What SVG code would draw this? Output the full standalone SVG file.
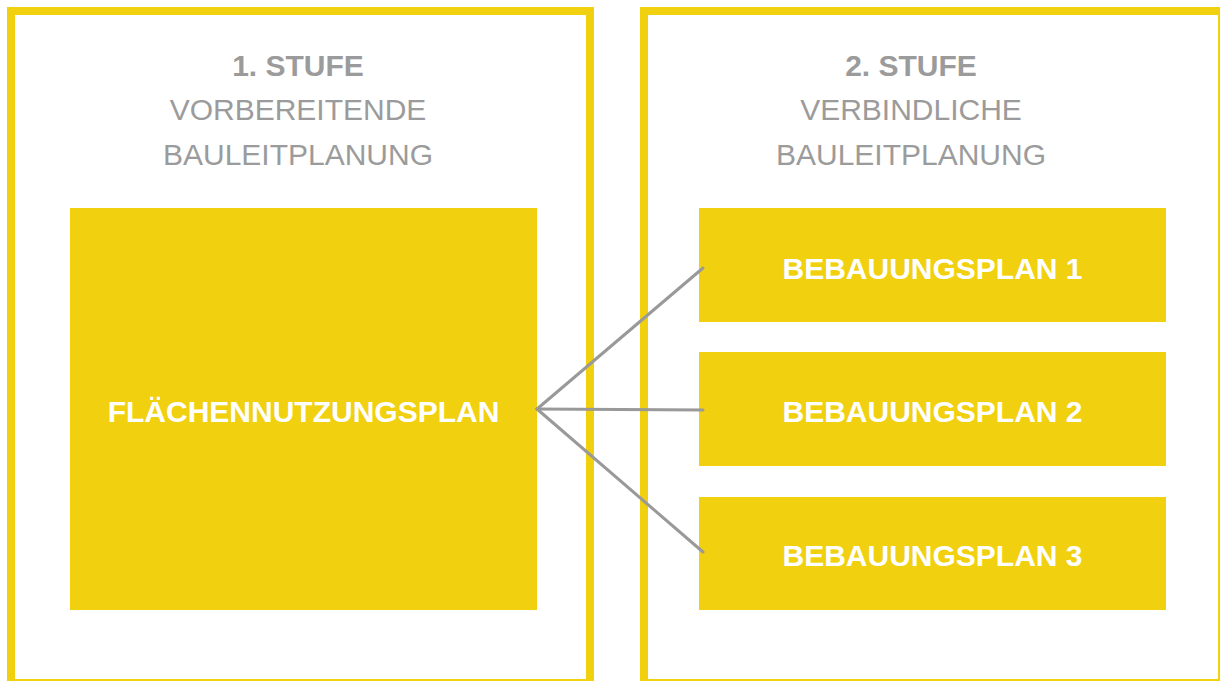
<svg xmlns="http://www.w3.org/2000/svg" width="1220" height="681" viewBox="0 0 1220 681">
<style>
.frame{fill:none;stroke:#F1D00F;stroke-width:8}
.box{fill:#F1D00F}
.hd{font-family:"Liberation Sans",Arial,sans-serif;font-size:30px;fill:#9B9B9B;text-anchor:middle}
.b{font-weight:bold}
.bt{font-family:"Liberation Sans",Arial,sans-serif;font-size:30px;font-weight:bold;fill:#FFFFFF;text-anchor:middle}
.conn{stroke:#999999;stroke-width:3;fill:none;stroke-linecap:round}
</style>
<rect width="1220" height="681" fill="#FFFFFF"/>
<g id="stage1">
<rect class="frame" x="11" y="11" width="579" height="672"/>
<text class="hd b" x="298" y="76">1. STUFE</text>
<text class="hd" x="298" y="120">VORBEREITENDE</text>
<text class="hd" x="298" y="165">BAULEITPLANUNG</text>
</g>
<g id="stage2">
<rect class="frame" x="644" y="11" width="578" height="672"/>
<text class="hd b" x="911" y="76">2. STUFE</text>
<text class="hd" x="911" y="120">VERBINDLICHE</text>
<text class="hd" x="911" y="165">BAULEITPLANUNG</text>
</g>
<g id="fnp">
<rect class="box" x="70" y="208" width="467" height="402"/>
<text class="bt" x="303.5" y="422">FLÄCHENNUTZUNGSPLAN</text>
</g>
<g id="bp1">
<rect class="box" x="699" y="208" width="467" height="114"/>
<text class="bt" x="932.5" y="279">BEBAUUNGSPLAN 1</text>
</g>
<g id="bp2">
<rect class="box" x="699" y="352" width="467" height="114"/>
<text class="bt" x="932.5" y="422">BEBAUUNGSPLAN 2</text>
</g>
<g id="bp3">
<rect class="box" x="699" y="497" width="467" height="113"/>
<text class="bt" x="932.5" y="566">BEBAUUNGSPLAN 3</text>
</g>
<g id="connectors">
<line class="conn" x1="537" y1="409" x2="703" y2="268"/>
<line class="conn" x1="537" y1="409" x2="703" y2="410"/>
<line class="conn" x1="537" y1="409" x2="703" y2="552"/>
</g>
</svg>
